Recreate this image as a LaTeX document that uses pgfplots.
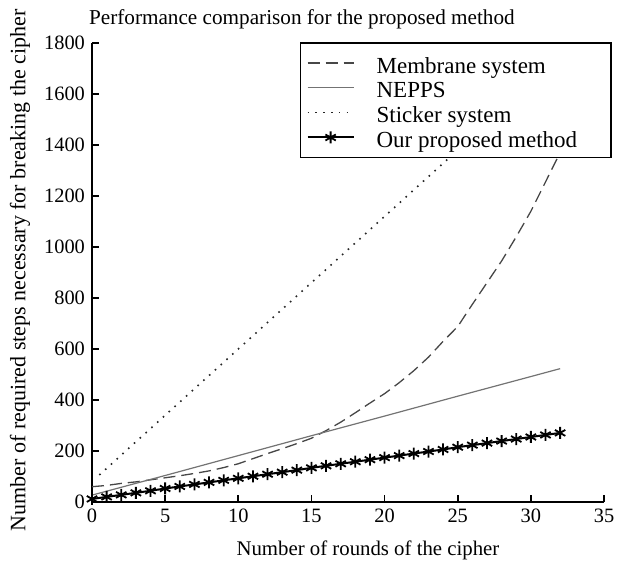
\documentclass[border=0pt]{standalone}
\usepackage{fontspec}
\setmainfont{Liberation Serif}
\usepackage{pgfplots}
\pgfplotsset{compat=1.18}

\begin{document}
\begin{tikzpicture}
\begin{axis}[
  scale only axis, width=256pt, height=229.5pt,
  xmin=0, xmax=35, ymin=0, ymax=1800,
  axis x line=bottom, axis y line=left,
  axis line style={-, line width=0.8pt, black},
  tick align=inside, major tick length=3.5pt,
  every tick/.style={line width=0.8pt, black},
  xtick={0,5,...,35}, ytick={0,200,...,1800},
  /pgf/number format/assume math mode=true,
  scaled y ticks=false,
  yticklabel style={/pgf/number format/1000 sep={}},
  tick label style={font=\fontsize{10.2}{12}\selectfont},
  title={Performance comparison for the proposed method},
  title style={at={(axis description cs:0.41,1.0414)}, anchor=base, yshift=-6pt, inner sep=0pt, font=\fontsize{10.6}{12}\selectfont},
  xlabel={Number of rounds of the cipher},
  xlabel style={at={(axis description cs:0.539,-0.1155)}, anchor=base, inner sep=0pt, font=\fontsize{10.4}{12}\selectfont},
  ylabel={Number of required steps necessary for breaking the cipher},
  ylabel style={at={(axis description cs:-0.1406,0.505)}, anchor=center, inner sep=0pt, font=\fontsize{11}{12}\selectfont},
  legend cell align=left,
  legend image code/.code={\draw[mark repeat=2, mark phase=2, #1] plot coordinates {(0pt,0pt) (11.5pt,0pt) (23pt,0pt)};},
  legend style={draw=black, line width=0.8pt, fill=white,
    font=\fontsize{11.5}{13}\selectfont,
    at={(axis description cs:1.0156,1.002)}, anchor=north east,
    inner xsep=3pt, inner ysep=4.1pt, row sep=0.4pt, column sep=9pt,
    nodes={inner ysep=1pt, text height=10pt, text depth=0pt}},
]
\addplot[color=black!72, line width=0.65pt, dash pattern=on 6pt off 3pt] coordinates {
 (0,60) (1,65) (2,73) (3,79) (4,87) (5,95) (6,103) (7,112) (8,122) (9,135)
 (10,150) (11,170) (12,190) (13,209) (14,229) (15,250) (16,280) (17,313)
 (18,350) (19,388) (20,425) (21,468) (22,515) (23,568) (24,630) (25,688)
 (26,775) (27,860) (28,945) (29,1040) (30,1140) (31,1255) (32,1370)};
\addlegendentry{Membrane system}
\addplot[color=black!55, line width=0.6pt] coordinates {
 (0,27) (5,104) (10,182) (15,260) (20,337) (25,415) (30,492) (32,523)};
\addlegendentry{NEPPS}
\addplot[color=black!85, line width=0.8pt, dash pattern=on 0.8pt off 3.1pt] coordinates {
 (0.5,106) (5,340) (10,600) (15,860) (20,1120) (25,1380) (32,1744)};
\addlegendentry{Sticker system}
\addplot[black, line width=1.0pt, mark=asterisk, mark size=3pt, mark options={line width=0.9pt, solid}] coordinates {
 (0,12) (1,20) (2,28) (3,36) (4,44) (5,53) (6,61) (7,69) (8,77) (9,85)
 (10,93) (11,101) (12,109) (13,117) (14,125) (15,134) (16,142) (17,150)
 (18,158) (19,166) (20,174) (21,182) (22,190) (23,198) (24,206) (25,215)
 (26,223) (27,231) (28,239) (29,247) (30,255) (31,263) (32,271)};
\addlegendentry{Our proposed method\hspace*{12pt}}
\end{axis}
\pgfresetboundingbox
\useasboundingbox (-46pt,-30.5pt) rectangle (266pt,251pt);
\end{tikzpicture}
\end{document}
